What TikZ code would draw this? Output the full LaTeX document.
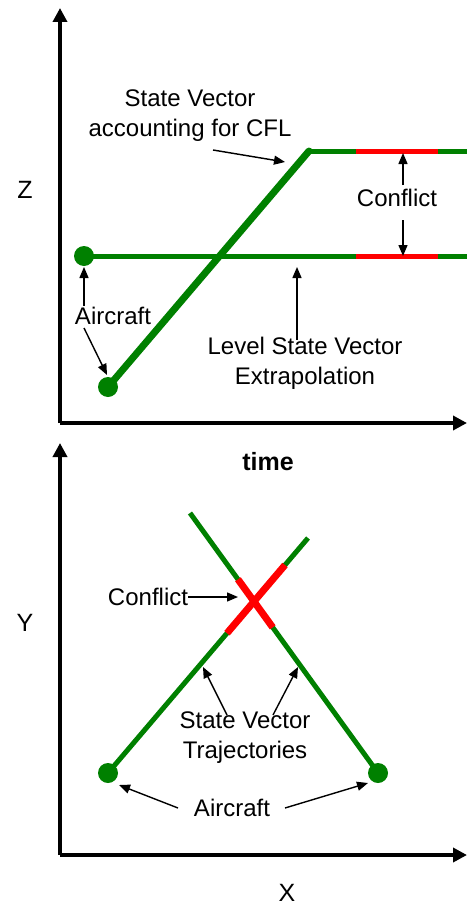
\documentclass[tikz,border=0pt]{standalone}
\usepackage{fontspec}
\setmainfont{Liberation Sans}
\usetikzlibrary{arrows.meta,calc}
\definecolor{trkgreen}{RGB}{0,128,0}
\definecolor{trkred}{RGB}{255,0,0}
\begin{document}
\begin{tikzpicture}[x=1pt,y=-1pt,
  axisline/.style={line width=4.5pt,-{Triangle[length=14pt,width=14pt]}},
  pointer/.style={line width=1.4pt,-{Triangle[length=11pt,width=9pt]}},
  trk/.style={trkgreen,line width=5pt},
  trkthick/.style={trkgreen,line width=7pt},
  conf/.style={trkred,line width=5pt},
  confx/.style={trkred,line width=7pt},
  acdot/.style={circle,fill=trkgreen,inner sep=0pt,minimum size=20pt},
  lbl/.style={font=\fontsize{24}{30}\selectfont,align=center,inner sep=0pt},
  axlbl/.style={font=\fontsize{25}{30}\selectfont,inner sep=0pt}]
\useasboundingbox (0,0) rectangle (467,907);
\fill[white] (0,0) rectangle (467,907);

% ---------- top panel: Z vs time ----------
\coordinate (o1) at (60,423);
\coordinate (zt) at (60,8);
\coordinate (tt) at (467,423);
\draw[axisline] (o1) -- (zt);
\draw[axisline] (o1) -- (tt);
\node[axlbl] (zlab) at (25,190) {Z};
\node[axlbl,font=\fontsize{25}{30}\selectfont\bfseries] (tlab) at (268,462) {time};

\coordinate (lvlend) at (467,256);
\coordinate (clbtop) at (309,151);
\coordinate (upend) at (467,151);
\draw[trk] (84,256) -- (lvlend);
\draw[trkthick,line cap=round] (108,387) -- (clbtop);
\draw[trk] (clbtop) -- (upend);
\coordinate (r1a) at (356,151);
\coordinate (r1b) at (438,151);
\coordinate (r2a) at (356,256);
\coordinate (r2b) at (438,256);
\draw[conf] (r1a) -- (r1b);
\draw[conf] (r2a) -- (r2b);
\node[acdot] (ac1) at (84,256) {};
\node[acdot] (ac2) at (108,387) {};

\node[lbl] (svcfl) at (190,116) {State Vector\\accounting for CFL};
\coordinate (svcflA) at (213,150);
\coordinate (svcflB) at (285,162);
\draw[pointer] (svcflA) -- (svcflB);

\node[lbl] (conf1) at (397,198) {Conflict};
\coordinate (c1up) at (403,185);
\coordinate (c1upT) at (403,153);
\coordinate (c1dn) at (403,220);
\coordinate (c1dnT) at (403,256);
\draw[pointer] (c1up) -- (c1upT);
\draw[pointer] (c1dn) -- (c1dnT);

\node[lbl] (acft1) at (113,316) {Aircraft};
\coordinate (a1s) at (84,306);
\coordinate (a1t) at (84,267);
\coordinate (a2s) at (84,328);
\coordinate (a2t) at (107,375);
\draw[pointer] (a1s) -- (a1t);
\draw[pointer] (a2s) -- (a2t);

\node[lbl] (lsv) at (305,363) {Level State Vector\\Extrapolation};
\coordinate (lsvs) at (297,340);
\coordinate (lsvt) at (297,267);
\draw[pointer] (lsvs) -- (lsvt);

% ---------- bottom panel: Y vs X ----------
\coordinate (o2) at (60,855);
\coordinate (yt) at (60,443);
\coordinate (xt) at (467,855);
\draw[axisline] (o2) -- (yt);
\draw[axisline] (o2) -- (xt);
\node[axlbl] (ylab) at (25,623) {Y};
\node[axlbl] (xlab) at (287,893) {X};

\coordinate (A1) at (190,513);
\coordinate (A2) at (378,773);
\coordinate (B1) at (108,773);
\coordinate (B2) at (308,538);
\draw[trk] (A1) -- (A2);
\draw[trk] (B1) -- (B2);
\draw[confx] ($(A1)!0.255!(A2)$) -- ($(A1)!0.44!(A2)$);
\draw[confx] ($(B1)!0.595!(B2)$) -- ($(B1)!0.885!(B2)$);
\node[acdot] (ac3) at (B1) {};
\node[acdot] (ac4) at (A2) {};

\node[lbl] (conf2) at (148,597) {Conflict};
\coordinate (c2t) at (238,597);
\draw[pointer] (conf2.east) -- (c2t);

\node[lbl] (svt) at (245,738) {State Vector\\Trajectories};
\coordinate (s1s) at (227,715);
\coordinate (s1t) at (203,667);
\coordinate (s2s) at (273,715);
\coordinate (s2t) at (298,667);
\draw[pointer] (s1s) -- (s1t);
\draw[pointer] (s2s) -- (s2t);

\node[lbl] (acft2) at (232,808) {Aircraft};
\coordinate (b1s) at (178,808);
\coordinate (b1t) at (119,785);
\coordinate (b2s) at (285,808);
\coordinate (b2t) at (368,783);
\draw[pointer] (b1s) -- (b1t);
\draw[pointer] (b2s) -- (b2t);
\end{tikzpicture}
\end{document}
